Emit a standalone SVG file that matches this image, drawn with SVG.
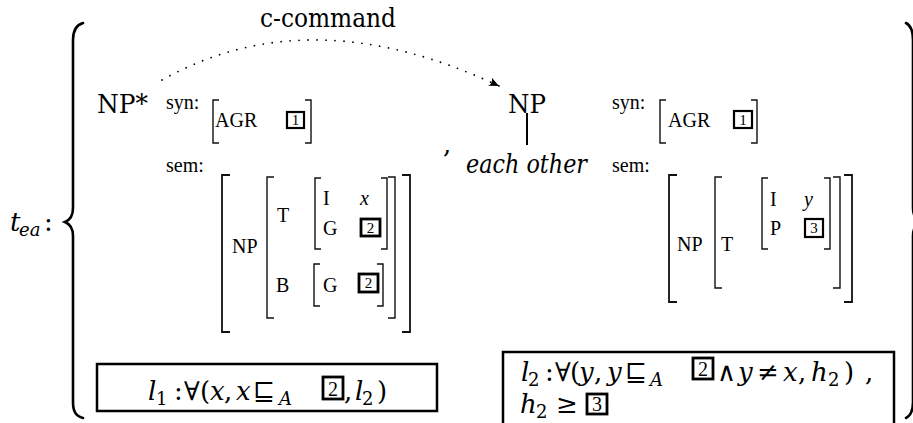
<svg xmlns="http://www.w3.org/2000/svg" width="913" height="423" viewBox="0 0 913 423">
<style>
text { fill: #000; }
.lg { font-size: 26px; font-family: 'DejaVu Serif', serif; }
.it { font-style: italic; }
.avm { font-size: 20px; font-family: 'Liberation Serif', serif; }
.sb { font-size: 18px; font-family: 'DejaVu Serif', serif; }
.br { fill: none; stroke: #111; stroke-width: 1.4; }
.brk { fill: none; stroke: #111; stroke-width: 1.8; }
.tag { fill: none; stroke: #000; stroke-width: 2.2; }
.tagb { fill: none; stroke: #000; stroke-width: 2.8; }
.tagt { font-size: 15px; text-anchor: middle; font-family: 'Liberation Serif', serif; }
.tagf { font-size: 20px; text-anchor: middle; font-family: 'Liberation Serif', serif; }
.frame { fill: none; stroke: #000; stroke-width: 2.5; }
.brace { fill: none; stroke: #000; stroke-width: 2.6; stroke-linecap: round; }
.dotted { fill: none; stroke: #000; stroke-width: 1.8; stroke-dasharray: 0 9; stroke-linecap: round; }
</style>
<defs>
<marker id="ah" markerUnits="userSpaceOnUse" markerWidth="14" markerHeight="12" refX="12" refY="6" orient="auto" viewBox="0 0 14 12">
<path d="M12 6 L2 1.5 Q5.5 6 2 10.5 Z" fill="#000" stroke="none"/>
</marker>
</defs>

<g id="label-tea">
<text class="lg it" x="10" y="231">t</text>
<text class="sb it" x="19" y="236">ea</text>
<text class="lg" x="44" y="231">:</text>
</g>

<g id="brace-left">
<path class="brace" d="M83 23 C76 25 73 30 73 40 V208 C73 216 70 220 65 222 C70 224 73 228 73 236 V402 C73 412 76 416 83 418"/>
</g>
<g id="brace-right">
<path class="brace" d="M906 23 C910 25 913 30 913 40 V208 C913 216 916 220 921 222 C916 224 913 228 913 236 V402 C913 412 910 416 906 418"/>
</g>

<g id="c-command-label">
<text class="lg" x="260" y="27" textLength="136" lengthAdjust="spacingAndGlyphs">c-command</text>
</g>

<g id="connectors">
<path class="dotted" d="M162 80 Q310 -3 499 86" marker-end="url(#ah)"/>
</g>

<g id="np-star">
<text class="lg" x="97" y="113" textLength="51" lengthAdjust="spacingAndGlyphs">NP*</text>
</g>

<g id="avm-left">
<text class="avm" x="166" y="109">syn:</text>
<path class="br" d="M219 100 H213 V143 H219"/>
<text class="avm" x="215" y="127">AGR</text>
<rect class="tag" x="287" y="112" width="17" height="16"/>
<text class="tagt" x="295.5" y="125">1</text>
<path class="br" d="M305 100 H311 V143 H305"/>

<text class="avm" x="166" y="172">sem:</text>
<path class="brk" d="M230 175 H222 V332 H230"/>
<path class="brk" d="M402 175 H410 V332 H402"/>
<text class="avm" x="232" y="253">NP</text>
<path class="br" d="M274 177 H267 V318 H274"/>
<path class="br" d="M388 177 H395 V318 H388"/>
<text class="avm" x="277" y="222">T</text>
<path class="br" d="M321 178 H315 V249 H321"/>
<path class="br" d="M381 178 H387 V249 H381"/>
<text class="avm" x="323" y="205">I</text>
<text class="avm it" x="360" y="205">x</text>
<text class="avm" x="323" y="235">G</text>
<rect class="tagb" x="361" y="219" width="19" height="17"/>
<text class="tagt" x="370.5" y="233">2</text>
<text class="avm" x="276" y="292">B</text>
<path class="br" d="M320 264 H314 V306 H320"/>
<path class="br" d="M377 264 H383 V306 H377"/>
<text class="avm" x="323" y="292">G</text>
<rect class="tagb" x="359" y="274" width="19" height="18"/>
<text class="tagt" x="368.5" y="288">2</text>
</g>

<g id="comma">
<text class="lg" x="443" y="153">,</text>
</g>

<g id="np-each-other">
<text class="lg" x="508" y="113" textLength="38" lengthAdjust="spacingAndGlyphs">NP</text>
<line x1="527" y1="113" x2="527" y2="145" stroke="#000" stroke-width="2"/>
<text class="lg it" x="466" y="173" textLength="121" lengthAdjust="spacingAndGlyphs">each other</text>
</g>

<g id="avm-right">
<text class="avm" x="612" y="109">syn:</text>
<path class="br" d="M666 100 H660 V143 H666"/>
<text class="avm" x="668" y="127">AGR</text>
<rect class="tag" x="734" y="111" width="18" height="17"/>
<text class="tagt" x="743" y="125">1</text>
<path class="br" d="M751 100 H757 V143 H751"/>

<text class="avm" x="612" y="172">sem:</text>
<path class="brk" d="M677 175 H669 V302 H677"/>
<path class="brk" d="M844 175 H852 V302 H844"/>
<text class="avm" x="677" y="251">NP</text>
<path class="br" d="M722 177 H715 V288 H722"/>
<path class="br" d="M833 177 H840 V288 H833"/>
<text class="avm" x="721" y="251">T</text>
<path class="br" d="M768 178 H762 V249 H768"/>
<path class="br" d="M824 178 H830 V249 H824"/>
<text class="avm" x="770" y="206">I</text>
<text class="avm it" x="804" y="206">y</text>
<text class="avm" x="770" y="235">P</text>
<rect class="tag" x="805" y="219" width="18" height="18"/>
<text class="tagt" x="814" y="233">3</text>
</g>

<g id="formula-l1">
<rect class="frame" x="97" y="364" width="340" height="47"/>
<text class="lg it" x="148" y="400">l</text>
<text class="sb" x="156" y="405">1</text>
<text class="lg" x="174" y="400">:</text>
<text class="lg" x="184" y="400">∀</text>
<text class="lg" x="200" y="400">(</text>
<text class="lg it" x="210" y="400">x</text>
<text class="lg" x="224" y="400">,</text>
<text class="lg it" x="236" y="400">x</text>
<text class="lg" x="253" y="400">⊑</text>
<text class="sb it" x="279" y="405">A</text>
<rect class="tagb" x="323" y="377" width="20" height="22"/>
<text class="tagf" x="333" y="396">2</text>
<text class="lg" x="344" y="400">,</text>
<text class="lg it" x="355" y="400">l</text>
<text class="sb" x="362" y="405">2</text>
<text class="lg" x="377" y="400">)</text>
</g>

<g id="formula-l2">
<rect class="frame" x="503" y="352" width="391" height="100"/>
<text class="lg it" x="521" y="381">l</text>
<text class="sb" x="528" y="386">2</text>
<text class="lg" x="545" y="381">:</text>
<text class="lg" x="555" y="381">∀</text>
<text class="lg" x="570" y="381">(</text>
<text class="lg it" x="579" y="381">y</text>
<text class="lg" x="594" y="381">,</text>
<text class="lg it" x="607" y="381">y</text>
<text class="lg" x="625" y="381">⊑</text>
<text class="sb it" x="650" y="386">A</text>
<rect class="tagb" x="693" y="358" width="20" height="21"/>
<text class="tagf" x="703" y="376">2</text>
<text class="lg" x="717" y="381">∧</text>
<text class="lg it" x="738" y="381">y</text>
<text class="lg" x="757" y="381">≠</text>
<text class="lg it" x="783" y="381">x</text>
<text class="lg" x="798" y="381">,</text>
<text class="lg it" x="811" y="381">h</text>
<text class="sb" x="828" y="386">2</text>
<text class="lg" x="844" y="381">)</text>
<text class="lg" x="865" y="381">,</text>
<text class="lg it" x="520" y="413">h</text>
<text class="sb" x="536" y="418">2</text>
<text class="lg" x="556" y="413">≥</text>
<rect class="tagb" x="587" y="394" width="20" height="20"/>
<text class="tagf" x="597" y="411">3</text>
</g>
</svg>
